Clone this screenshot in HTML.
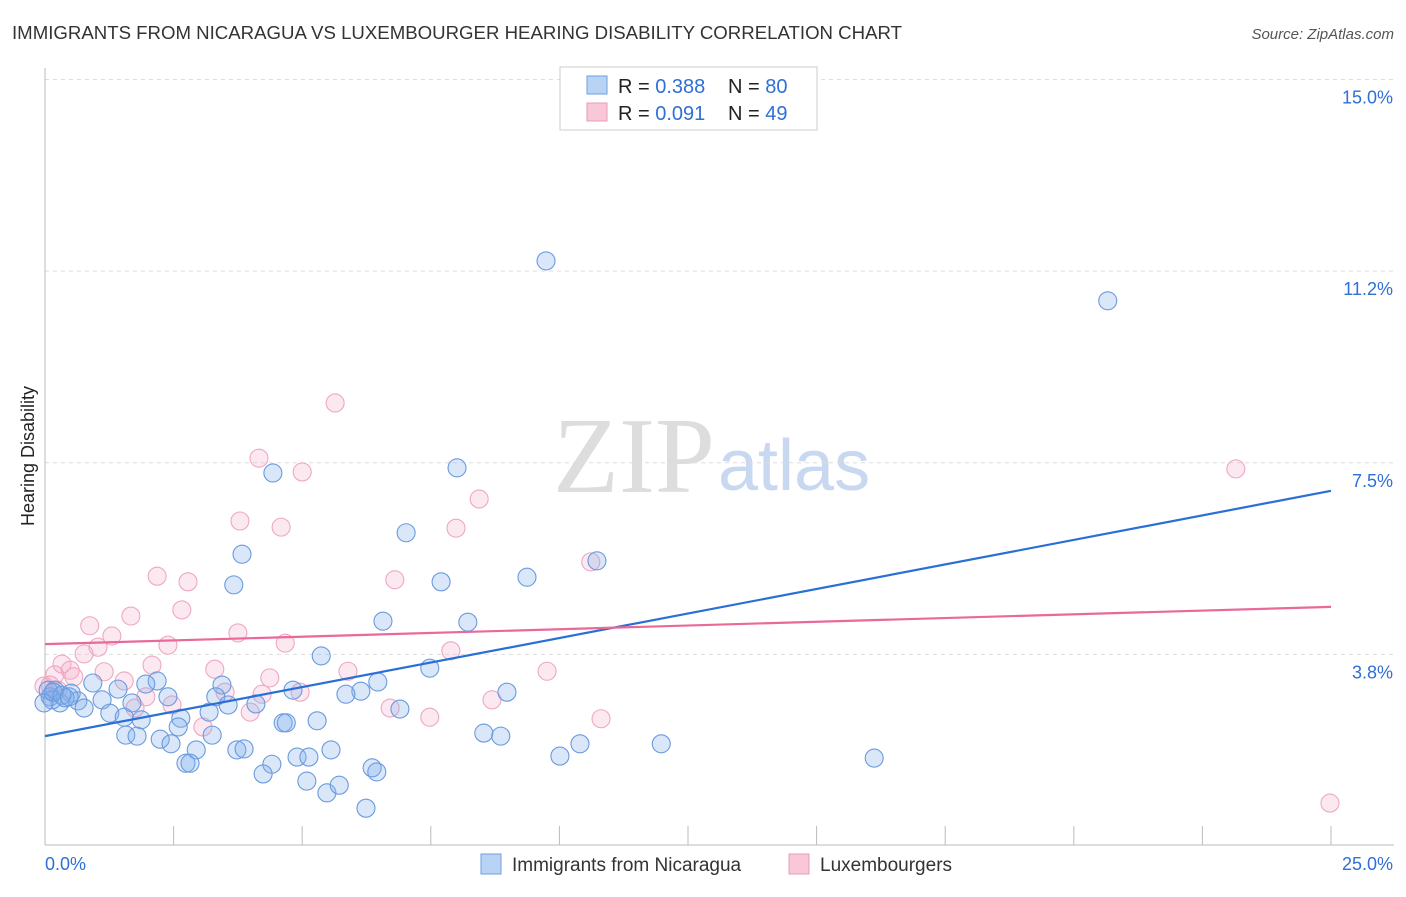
<!DOCTYPE html>
<html><head><meta charset="utf-8"><style>
body{margin:0;background:#fff;font-family:"Liberation Sans",sans-serif}
</style></head><body>
<svg width="1406" height="892" xmlns="http://www.w3.org/2000/svg" style="font-family:'Liberation Sans',sans-serif">
<text x="12" y="39" font-size="18" fill="#333" textLength="890" lengthAdjust="spacingAndGlyphs">IMMIGRANTS FROM NICARAGUA VS LUXEMBOURGER HEARING DISABILITY CORRELATION CHART</text>
<text x="1394" y="39" font-size="15" fill="#555" text-anchor="end" font-style="italic">Source: ZipAtlas.com</text>
<text x="0" y="0" font-size="18" fill="#222" transform="translate(34,456) rotate(-90)" text-anchor="middle">Hearing Disability</text>
<text x="553" y="492" font-size="108" fill="#ddd" font-family="Liberation Serif">ZIP</text>
<text x="718" y="490" font-size="72" fill="#c8d8f0">atlas</text>
<g id="grid"></g><g id="axes"></g><g id="pts"></g><g id="lines"></g>
<g>
<rect x="560" y="67" width="257" height="63" fill="#fff" stroke="#ccc"/>
<rect x="587" y="76" width="20" height="18" fill="#b9d3f5" stroke="#6e9fe0"/>
<rect x="587" y="103" width="20" height="18" fill="#f9c8d6" stroke="#ea9ab5"/>
<text x="618" y="93" font-size="20" fill="#222">R = <tspan fill="#2f6fd6">0.388</tspan></text>
<text x="728" y="93" font-size="20" fill="#222">N = <tspan fill="#2f6fd6">80</tspan></text>
<text x="618" y="120" font-size="20" fill="#222">R = <tspan fill="#2f6fd6">0.091</tspan></text>
<text x="728" y="120" font-size="20" fill="#222">N = <tspan fill="#2f6fd6">49</tspan></text>
</g>
<g>
<rect x="481" y="854" width="20" height="20" fill="#b9d3f5" stroke="#6e9fe0"/>
<text x="512" y="871" font-size="19" fill="#333">Immigrants from Nicaragua</text>
<rect x="789" y="854" width="20" height="20" fill="#f9c8d6" stroke="#ea9ab5"/>
<text x="820" y="871" font-size="19" fill="#333">Luxembourgers</text>
</g>
</svg>
<script>
const yTicks=[3.75,7.5,11.25,15.0];
const yTickLabels=["3.8%","7.5%","11.2%","15.0%"];
const xTicks=[0,2.5,5,7.5,10,12.5,15,17.5,20,22.5,25];
const bluePx=[[546,261],[1108,301],[273,473],[457,468],[406,533],[242,554],[597,561],[527,577],[234,585],[441,582],[383,621],[468,622],[321,656],[430,668],[378,682],[507,692],[361,691],[346,694],[293,690],[222,685],[216,697],[228,705],[256,704],[209,712],[181,718],[157,681],[146,684],[168,697],[132,703],[118,689],[93,683],[71,693],[55,690],[50,697],[60,703],[78,701],[84,708],[102,700],[110,713],[124,717],[141,720],[126,735],[137,736],[160,739],[171,744],[178,727],[196,750],[186,763],[190,763],[212,735],[237,750],[244,749],[283,723],[286,723],[317,721],[331,750],[297,757],[309,757],[272,764],[263,774],[307,781],[327,793],[339,785],[366,808],[372,768],[377,772],[400,709],[484,733],[501,736],[560,756],[580,744],[661,744],[874,758],[48,690],[52,700],[65,698],[44,703],[53,692],[62,695],[69,697]];
const pinkPx=[[335,403],[259,458],[302,472],[479,499],[240,521],[281,527],[456,528],[1236,469],[591,562],[157,576],[188,582],[395,580],[182,610],[131,616],[90,626],[112,636],[238,633],[168,645],[285,643],[98,647],[84,654],[451,651],[152,665],[62,664],[70,670],[104,672],[348,671],[547,671],[270,678],[124,681],[74,677],[55,675],[50,685],[215,669],[225,692],[172,705],[146,697],[262,694],[300,692],[135,708],[203,727],[250,712],[390,708],[430,717],[492,700],[601,719],[1330,803],[44,686],[58,690]];
const blueX=bluePx.map(p=>+((p[0]-45)/51.44).toFixed(2));
const blueY=bluePx.map(p=>+((846-p[1])/51.1).toFixed(2));
const pinkX=pinkPx.map(p=>+((p[0]-45)/51.44).toFixed(2));
const pinkY=pinkPx.map(p=>+((846-p[1])/51.1).toFixed(2));
const blueTrend=[2.15,6.95];
const pinkTrend=[3.95,4.68];
const sx=v=>45+v*51.44, sy=v=>846-v*51.1;
const NS="http://www.w3.org/2000/svg";
function mk(t,a,p){const e=document.createElementNS(NS,t);for(const k in a)e.setAttribute(k,a[k]);p.appendChild(e);return e;}
const g=document.getElementById('grid'),ax=document.getElementById('axes'),pts=document.getElementById('pts'),ln=document.getElementById('lines');
yTicks.forEach((v,i)=>{const l=mk('line',{x1:45,x2:1394,y1:sy(v),y2:sy(v),stroke:'#ddd','stroke-dasharray':'4,4'},g);


const t=mk('text',{x:1393,y:sy(v)+24,'font-size':18,fill:'#2f6fd6','text-anchor':'end'},ax);t.textContent=yTickLabels[i];

});
const yl=mk('line',{x1:45,x2:45,y1:68,y2:845,stroke:'#bbb'},ax);


const xl=mk('line',{x1:45,x2:1394,y1:845,y2:845,stroke:'#bbb'},ax);


xTicks.forEach(v=>{const t=mk('line',{x1:sx(v),x2:sx(v),y1:826,y2:845,stroke:'#bbb'},ax);

});
const x0=mk('text',{x:45,y:870,'font-size':18,fill:'#2f6fd6'},ax);x0.textContent='0.0%';


const x1=mk('text',{x:1393,y:870,'font-size':18,fill:'#2f6fd6','text-anchor':'end'},ax);x1.textContent='25.0%';


pinkX.forEach((x,i)=>{const c=mk('circle',{cx:sx(x),cy:sy(pinkY[i]),r:9,fill:'rgba(245,165,195,0.25)',stroke:'#efa7c0','stroke-width':1.1},pts);

});
blueX.forEach((x,i)=>{const c=mk('circle',{cx:sx(x),cy:sy(blueY[i]),r:9,fill:'rgba(130,175,235,0.3)',stroke:'#6a9ade','stroke-width':1.1},pts);

});
const bl=mk('line',{x1:sx(0),y1:sy(blueTrend[0]),x2:sx(25),y2:sy(blueTrend[1]),stroke:'#2a6fd6','stroke-width':2.2},ln);


const pl=mk('line',{x1:sx(0),y1:sy(pinkTrend[0]),x2:sx(25),y2:sy(pinkTrend[1]),stroke:'#e8699a','stroke-width':2.2},ln);


</script>
</body></html>
